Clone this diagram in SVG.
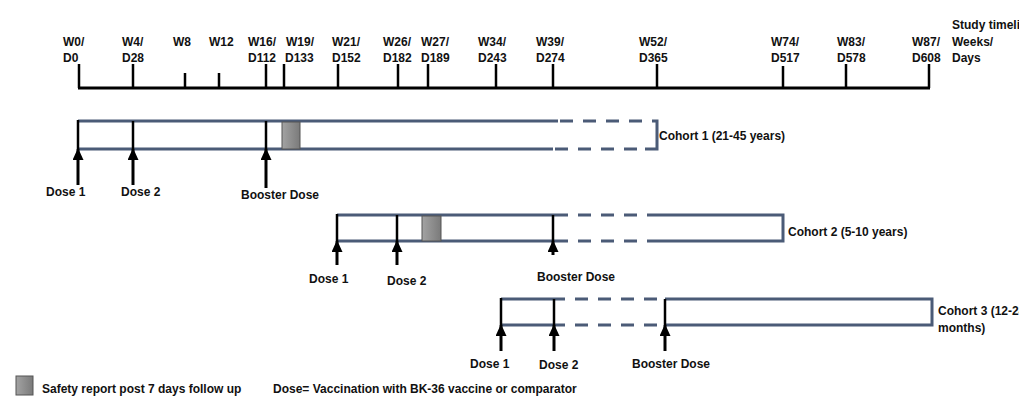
<svg xmlns="http://www.w3.org/2000/svg" width="1019" height="397" viewBox="0 0 1019 397">
<style>
text{font-family:"Liberation Sans",Arial,sans-serif;font-weight:bold;font-size:12px;fill:#111}
.tl{stroke:#000;stroke-width:3;fill:none}
.tk{stroke:#000;stroke-width:2.5}
.bar{stroke:#4b5b77;stroke-width:3;fill:none}
.dash{stroke:#4b5b77;stroke-width:3;stroke-dasharray:13 10;fill:none}
.in{stroke:#000;stroke-width:2.5}
.sf{fill:url(#g);stroke:#555;stroke-width:1}
.ar{stroke:#000;stroke-width:3;marker-end:url(#ah)}
</style>
<defs>
<linearGradient id="g" x1="0" y1="0" x2="1" y2="0">
<stop offset="0" stop-color="#a3a3a3"/>
<stop offset="1" stop-color="#7a7a7a"/>
</linearGradient>
<marker id="ah" markerUnits="userSpaceOnUse" markerWidth="12" markerHeight="11" refX="11" refY="5.5" orient="auto">
<path d="M0,0 L12,5.5 L0,11 Z" fill="#000"/>
</marker>
</defs>
<rect width="1019" height="397" fill="#fff"/>

<g id="timeline">
<line class="tl" x1="78" y1="88" x2="930" y2="88"/>
<line class="tk" x1="79" y1="64" x2="79" y2="88"/>
<line class="tk" x1="133" y1="64" x2="133" y2="88"/>
<line class="tk" x1="185" y1="73" x2="185" y2="88"/>
<line class="tk" x1="219" y1="73" x2="219" y2="88"/>
<line class="tk" x1="266" y1="64" x2="266" y2="88"/>
<line class="tk" x1="284" y1="64" x2="284" y2="88"/>
<line class="tk" x1="338" y1="64" x2="338" y2="88"/>
<line class="tk" x1="398" y1="64" x2="398" y2="88"/>
<line class="tk" x1="428" y1="64" x2="428" y2="88"/>
<line class="tk" x1="496" y1="64" x2="496" y2="88"/>
<line class="tk" x1="553" y1="64" x2="553" y2="88"/>
<line class="tk" x1="657" y1="64" x2="657" y2="88"/>
<line class="tk" x1="783" y1="66" x2="783" y2="88"/>
<line class="tk" x1="846" y1="64" x2="846" y2="88"/>
<line class="tk" x1="929" y1="64" x2="929" y2="88"/>
<text x="63" y="46">W0/</text><text x="63" y="62">D0</text>
<text x="122" y="46">W4/</text><text x="122" y="62">D28</text>
<text x="173" y="46">W8</text>
<text x="209" y="46">W12</text>
<text x="248" y="46">W16/</text><text x="248" y="62">D112</text>
<text x="286" y="46">W19/</text><text x="285" y="62">D133</text>
<text x="332" y="46">W21/</text><text x="332" y="62">D152</text>
<text x="383" y="46">W26/</text><text x="383" y="62">D182</text>
<text x="421" y="46">W27/</text><text x="421" y="62">D189</text>
<text x="478" y="46">W34/</text><text x="478" y="62">D243</text>
<text x="536" y="46">W39/</text><text x="536" y="62">D274</text>
<text x="639" y="46">W52/</text><text x="639" y="62">D365</text>
<text x="771" y="46">W74/</text><text x="771" y="62">D517</text>
<text x="837" y="46">W83/</text><text x="837" y="62">D578</text>
<text x="912" y="46">W87/</text><text x="912" y="62">D608</text>
<text x="952" y="29">Study timeline</text>
<text x="952" y="46">Weeks/</text>
<text x="952" y="62">Days</text>
</g>

<g id="cohort1">
<line class="bar" x1="78" y1="121" x2="558" y2="121"/>
<line class="bar" x1="78" y1="149" x2="553" y2="149"/>
<line class="dash" x1="560" y1="121" x2="643" y2="121"/>
<line class="dash" x1="555" y1="149" x2="638" y2="149"/>
<path class="bar" d="M652,121 H657 V149 H645"/>
<line class="in" x1="78" y1="120" x2="78" y2="149"/>
<line class="in" x1="133" y1="121" x2="133" y2="149"/>
<line class="in" x1="266" y1="121" x2="266" y2="149"/>
<rect class="sf" x="282" y="122" width="18" height="27"/>
<text x="659" y="140">Cohort 1 (21-45 years)</text>
<text x="46" y="196">Dose 1</text>
<text x="121" y="196">Dose 2</text>
<text x="241" y="199">Booster Dose</text>
</g>

<g id="cohort2">
<line class="bar" x1="337" y1="215" x2="555" y2="215"/>
<line class="bar" x1="337" y1="241" x2="555" y2="241"/>
<line class="dash" x1="555" y1="215" x2="657" y2="215"/>
<line class="dash" x1="555" y1="241" x2="657" y2="241"/>
<path class="bar" d="M657,215 H783 V241 H657"/>
<line class="in" x1="337" y1="214" x2="337" y2="241"/>
<line class="in" x1="397" y1="215" x2="397" y2="241"/>
<line class="in" x1="553" y1="215" x2="553" y2="241"/>
<rect class="sf" x="422" y="216" width="19" height="25"/>
<text x="788" y="236">Cohort 2 (5-10 years)</text>
<text x="309" y="283">Dose 1</text>
<text x="387" y="285">Dose 2</text>
<text x="537" y="281">Booster Dose</text>
</g>

<g id="cohort3">
<line class="bar" x1="501" y1="299" x2="565" y2="299"/>
<line class="bar" x1="501" y1="325" x2="565" y2="325"/>
<line class="dash" x1="575" y1="299" x2="657" y2="299"/>
<line class="dash" x1="575" y1="325" x2="657" y2="325"/>
<path class="bar" d="M665,299 H932 V325 H665"/>
<line class="in" x1="501" y1="298" x2="501" y2="325"/>
<line class="in" x1="554" y1="299" x2="554" y2="325"/>
<line class="in" x1="665" y1="299" x2="665" y2="325"/>
<text x="938" y="315">Cohort 3 (12-24</text>
<text x="938" y="332">months)</text>
<text x="470" y="368">Dose 1</text>
<text x="539" y="369">Dose 2</text>
<text x="632" y="368">Booster Dose</text>
</g>

<g id="legend">
<rect class="sf" x="16" y="376" width="17" height="19"/>
<text x="42" y="393">Safety report post 7 days follow up</text>
<text x="273" y="393">Dose= Vaccination with BK-36 vaccine or comparator</text>
</g>

<g id="connectors">
<line class="ar" x1="78" y1="185" x2="78" y2="149"/>
<line class="ar" x1="133" y1="185" x2="133" y2="149"/>
<line class="ar" x1="266" y1="188" x2="266" y2="149"/>
<line class="ar" x1="337" y1="265" x2="337" y2="241"/>
<line class="ar" x1="397" y1="265" x2="397" y2="241"/>
<line class="ar" x1="553" y1="255" x2="553" y2="241"/>
<line class="ar" x1="501" y1="351" x2="501" y2="325"/>
<line class="ar" x1="554" y1="351" x2="554" y2="325"/>
<line class="ar" x1="665" y1="351" x2="665" y2="325"/>
</g>
</svg>
